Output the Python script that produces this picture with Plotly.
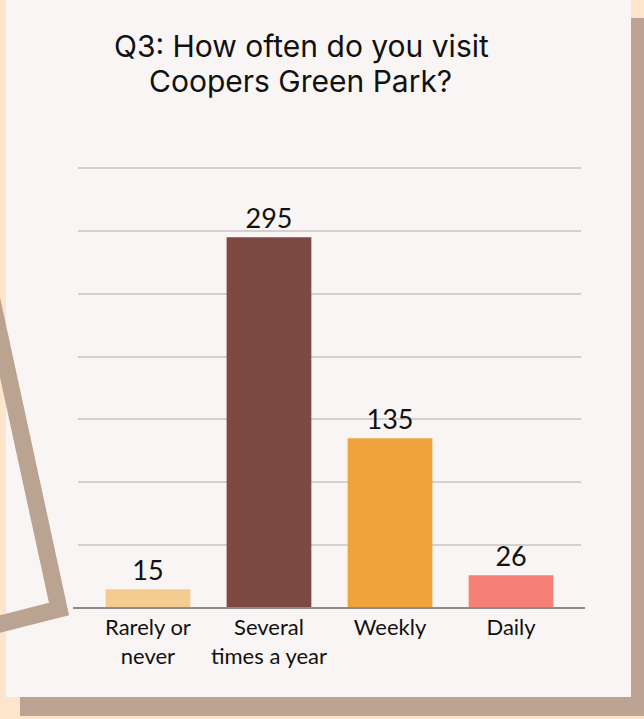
import plotly.graph_objects as go

# ---- data ----
categories = ["Rarely or<br>never", "Several<br>times a year", "Weekly", "Daily"]
counts = [15, 295, 135, 26]
bar_colors = ["#f5cc8f", "#7f4943", "#f0a33c", "#f58176"]
title_lines = ["Q3: How often do you visit", "Coopers Green Park?"]
y_ticks = [0, 50, 100, 150, 200, 250, 300, 350]

W, H = 644, 719
L, R, T, B = 78, 63, 167, 111
PW, PH = W - L - R, H - T - B


def px(x):
    return (x - L) / PW


def py(y):
    return (H - B - y) / PH


fig = go.Figure()
fig.add_trace(go.Bar(
    x=list(range(len(categories))),
    y=counts,
    marker=dict(color=bar_colors, line=dict(width=0)),
    width=0.7,
    text=[str(v) for v in counts],
    textposition="outside",
    textfont=dict(family="Lato", size=27, color="#111111"),
    cliponaxis=False,
    hoverinfo="skip",
))

shapes = [
    # shadow
    dict(type="rect", xref="paper", yref="paper", x0=px(20), x1=px(660), y0=py(716), y1=py(18),
         fillcolor="#bca393", line=dict(width=0), layer="below"),
    # card
    dict(type="rect", xref="paper", yref="paper", x0=px(6), x1=px(631), y0=py(697), y1=py(-10),
         fillcolor="#f9f5f4", line=dict(width=0), layer="below"),
    # decorative frame corner
    dict(type="path", xref="paper", yref="paper",
         path=f"M {px(-30)} {py(199)} L {px(59)} {py(609)} L {px(-40)} {py(634)}",
         line=dict(color="#bba392", width=17), layer="above"),
    # baseline
    dict(type="line", xref="paper", yref="paper", x0=px(73), x1=px(585), y0=py(608), y1=py(608),
         line=dict(color="#8c8c8c", width=2), layer="above"),
]

annotations = [
    dict(text=title_lines[0], xref="paper", yref="paper", x=px(301), y=py(45.5),
         xanchor="center", yanchor="middle", showarrow=False,
         font=dict(family="Inter", size=30, color="#111111")),
    dict(text=title_lines[1], xref="paper", yref="paper", x=px(300), y=py(81.5),
         xanchor="center", yanchor="middle", showarrow=False,
         font=dict(family="Inter", size=30, color="#111111")),
]

fig.update_layout(
    width=W, height=H,
    margin=dict(l=L, r=R, t=T, b=B, pad=0),
    paper_bgcolor="#fde5cb",
    plot_bgcolor="rgba(0,0,0,0)",
    showlegend=False,
    shapes=shapes,
    annotations=annotations,
    bargap=0.3,
    xaxis=dict(
        tickmode="array", tickvals=list(range(len(categories))), ticktext=categories,
        range=[-0.578, 3.578], showgrid=False, zeroline=False, showline=False,
        ticks="", ticklabelstandoff=4,
        tickfont=dict(family="Lato", size=22, color="#111111"),
        fixedrange=True,
    ),
    yaxis=dict(
        range=[0, 350.8], tickvals=y_ticks, showticklabels=False,
        showgrid=True, gridcolor="#d4d0ce", gridwidth=2, zeroline=False,
        showline=False, ticks="", fixedrange=True,
    ),
)

fig.write_html("out.html", config={"displayModeBar": False},
               post_script="document.body.style.margin='0';")
